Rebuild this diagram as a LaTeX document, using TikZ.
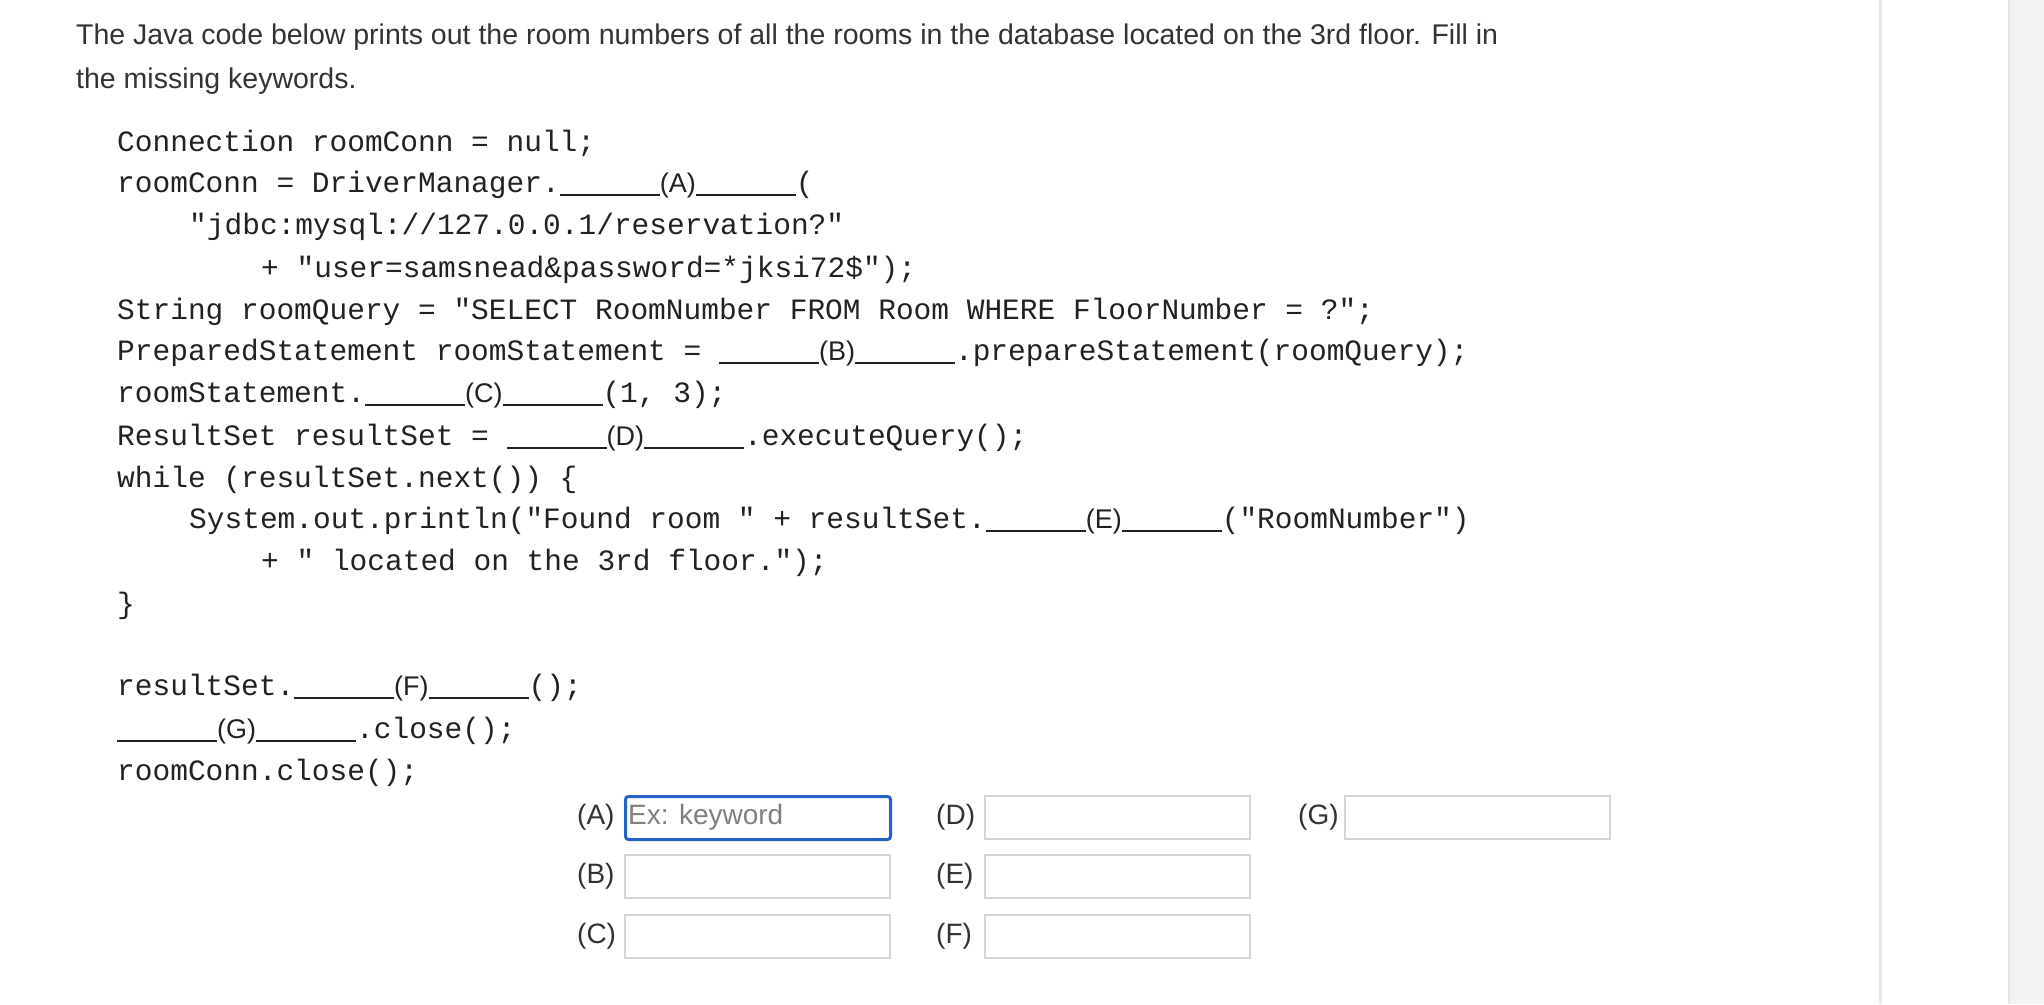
\documentclass[tikz,border=0pt]{standalone}
\usepackage{fontspec}
\setmainfont{Liberation Sans}
\setmonofont{Liberation Mono}
\definecolor{txt}{HTML}{333333}
\definecolor{code}{HTML}{222222}
\definecolor{boxgray}{HTML}{D3D7DB}
\definecolor{focus}{HTML}{2563C9}
\newcommand{\blk}[1]{\rule[-3pt]{100pt}{1.3pt}{\rmfamily\fontsize{27}{30}\selectfont(#1)}\rule[-3pt]{100pt}{1.3pt}}
\begin{document}
\begin{tikzpicture}[x=1pt,y=-1pt,
  codeline/.style={anchor=west,inner sep=0pt,text=code,font=\ttfamily\fontsize{29.5}{32}\selectfont},
  head/.style={anchor=west,inner sep=0pt,text=txt,font=\fontsize{28.5}{32}\selectfont},
  lbl/.style={anchor=west,inner sep=0pt,text=txt,font=\fontsize{28}{32}\selectfont},
  ansbox/.style={draw=boxgray,line width=1.5pt,minimum width=265pt,minimum height=43pt,anchor=north west,inner sep=0pt}]
\useasboundingbox (0,0) rectangle (2044,1004);
\fill[white] (0,0) rectangle (2044,1004);
\fill[black!9] (1879,0) rectangle (1882,1004);
\fill[black!5] (2008,0) rectangle (2044,1004);
\fill[black!10] (2008,0) rectangle (2010,1004);
\node[head] (h1) at (76,37) {The Java code below prints out the room numbers of all the rooms in the database located on the 3rd floor. Fill in};
\node[head] (h2) at (76,81) {the missing keywords.};
\node[codeline] (c1) at (117,143) {Connection roomConn = null;};
\node[codeline] (c2) at (117,185) {roomConn = DriverManager.\blk{A}(};
\node[codeline] (c3) at (189,227) {"jdbc:mysql://127.0.0.1/reservation?"};
\node[codeline] (c4) at (261,270) {+ "user=samsnead\&password=*jksi72\$");};
\node[codeline] (c5) at (117,312) {String roomQuery = "SELECT RoomNumber FROM Room WHERE FloorNumber = ?";};
\node[codeline] (c6) at (117,353) {PreparedStatement roomStatement = \blk{B}.prepareStatement(roomQuery);};
\node[codeline] (c7) at (117,395) {roomStatement.\blk{C}(1, 3);};
\node[codeline] (c8) at (117,438) {ResultSet resultSet = \blk{D}.executeQuery();};
\node[codeline] (c9) at (117,480) {while (resultSet.next()) \{};
\node[codeline] (c10) at (189,521) {System.out.println("Found room " + resultSet.\blk{E}("RoomNumber")};
\node[codeline] (c11) at (261,563) {+ " located on the 3rd floor.");};
\node[codeline] (c12) at (117,606) {\}};
\node[codeline] (c13) at (117,688) {resultSet.\blk{F}();};
\node[codeline] (c14) at (117,731) {\blk{G}.close();};
\node[codeline] (c15) at (117,773) {roomConn.close();};
% answer fields
\node[lbl] (la) at (577,817) {(A)};
\node[ansbox,draw=focus,line width=3pt,rounded corners=3pt] (ba) at (624,795) {};
\node[anchor=west,inner sep=0pt,text=black!50,font=\fontsize{28}{32}\selectfont] (pa) at (628,817) {Ex: keyword};
\node[lbl] (lb) at (577,876) {(B)};
\node[ansbox] (bb) at (624,854) {};
\node[lbl] (lc) at (577,936) {(C)};
\node[ansbox] (bc) at (624,914) {};
\node[lbl] (ld) at (936,817) {(D)};
\node[ansbox] (bd) at (984,795) {};
\node[lbl] (le) at (936,876) {(E)};
\node[ansbox] (be) at (984,854) {};
\node[lbl] (lf) at (936,936) {(F)};
\node[ansbox] (bf) at (984,914) {};
\node[lbl] (lg) at (1298,817) {(G)};
\node[ansbox] (bg) at (1344,795) {};
\end{tikzpicture}
\end{document}
